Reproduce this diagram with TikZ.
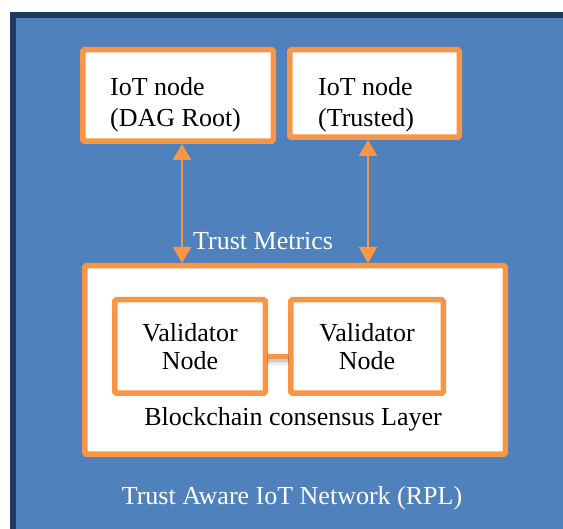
\documentclass[tikz,border=0pt]{standalone}
\usepackage{fontspec}
\setmainfont{Liberation Serif}
\usetikzlibrary{arrows.meta}
\definecolor{netblue}{HTML}{4F81BD}
\definecolor{netnavy}{HTML}{1F3A5C}
\definecolor{accent}{HTML}{F79646}
\tikzset{
  every node/.style={font=\fontsize{26}{31}\selectfont, inner sep=0pt},
  framebox/.style={draw=accent, line width=5.5pt, fill=white, rounded corners=1.5pt},
  darktxt/.style={text=black},
  lighttxt/.style={text=white},
  trustarrow/.style={draw=accent, line width=2.7pt,
    {Triangle[width=18pt,length=16pt]}-{Triangle[width=18pt,length=16pt]}},
  link/.style={draw=accent, line width=5pt},
}
\begin{document}
\begin{tikzpicture}[x=1pt, y=-1pt]
\useasboundingbox (0,0) rectangle (563,529);

% network background
\draw[line width=6pt, draw=netnavy, fill=netblue] (13,15) rectangle (566,560);

% IoT nodes
\node[framebox, minimum width=190.5pt, minimum height=91.5pt] (root) at (178,95.5) {};
\node[darktxt, anchor=base west, align=left] (roottxt) at (110,127) {IoT node\\(DAG Root)};
\node[framebox, minimum width=169.5pt, minimum height=87.5pt] (trusted) at (374.5,93.5) {};
\node[darktxt, anchor=base west, align=left] (trustedtxt) at (318,127) {IoT node\\(Trusted)};

% consensus layer
\node[framebox, minimum width=420.5pt, minimum height=188.5pt] (chain) at (295,360) {};
\node[framebox, minimum width=150.5pt, minimum height=93.5pt, align=center,
      font=\fontsize{26}{28}\selectfont] (v1) at (190,346.5) {Validator\\Node};
\node[framebox, minimum width=152.5pt, minimum height=93.5pt, align=center,
      font=\fontsize{26}{28}\selectfont] (v2) at (367,346.5) {Validator\\Node};
\node[darktxt, anchor=base] (chaintxt) at (293,426) {Blockchain consensus Layer};

% validator link with its soft shadow
\foreach \w/\o in {14/0.03, 11/0.04, 8/0.06, 5/0.08}
  \draw[line width=\w pt, black, opacity=\o]
    ([xshift=-1pt, yshift=-13pt]v1.east) -- ([xshift=1pt, yshift=-13pt]v2.west);
\draw[link] ([yshift=-10.5pt]v1.east) -- ([yshift=-10.5pt]v2.west);

% trust metric exchange
\coordinate (ax1) at (182,0);
\coordinate (ax2) at (368,0);
\draw[trustarrow] (ax1 |- root.south) -- (ax1 |- chain.north);
\draw[trustarrow] (ax2 |- trusted.south) -- (ax2 |- chain.north);
\node[lighttxt, anchor=base west] (metrics) at (193,250) {Trust Metrics};

% network caption
\node[lighttxt, anchor=base] (nettxt) at (292,505) {Trust Aware IoT Network (RPL)};
\end{tikzpicture}
\end{document}
